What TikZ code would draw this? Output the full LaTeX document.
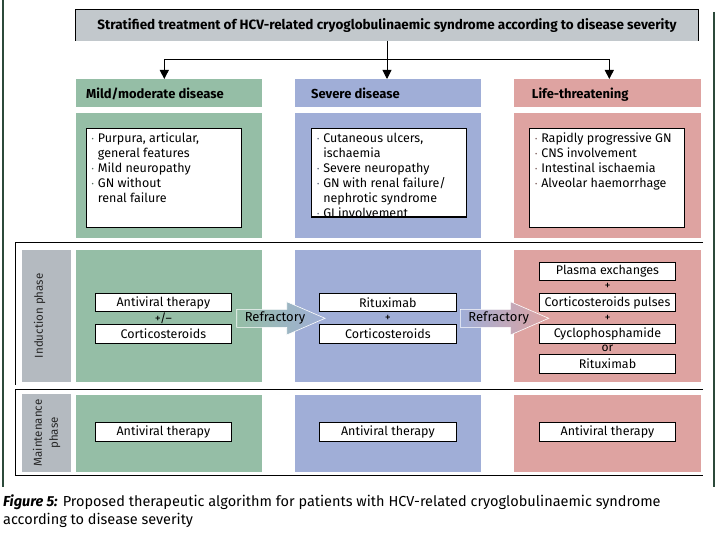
\documentclass[tikz,border=0pt]{standalone}
\usepackage{fontspec}
\setmainfont{Fira Sans}
\usetikzlibrary{positioning, calc, arrows.meta}

\definecolor{cgreen}{HTML}{95BEA6}
\definecolor{cblue}{HTML}{A0AED7}
\definecolor{cred}{HTML}{DEA3A1}
\definecolor{cgrey}{HTML}{C2C8CC}
\definecolor{cphase}{HTML}{B4BAC0}
\definecolor{cside}{HTML}{2C4A3A}

\newcommand{\listdot}[1]{{\color{#1}\fontsize{7}{7}\selectfont\raisebox{1.2pt}{\textbullet}}}

\tikzset{
  panel/.style={inner sep=0pt, minimum width=186.5pt, anchor=north west},
  headtxt/.style={inner sep=0pt, anchor=base west, font=\bfseries\fontsize{13}{15}\selectfont},
  symbox/.style={draw=black, line width=0.8pt, fill=white, minimum width=155pt, inner sep=0pt, anchor=north west},
  listtxt/.style={inner sep=0pt, anchor=base west, font=\fontsize{12.5}{15}\selectfont},
  drugbox/.style={draw=black, line width=0.8pt, fill=white, minimum width=136.7pt, minimum height=18.5pt, inner sep=0pt, font=\fontsize{12.5}{14}\selectfont},
  optxt/.style={inner sep=0pt, font=\fontsize{12}{14}\selectfont},
  phasebox/.style={fill=cphase, inner sep=0pt, minimum width=48.7pt},
  phasetxt/.style={inner sep=0pt, rotate=90, font=\fontsize{11.5}{16}\selectfont, text=black!85},
  refr/.style={inner sep=0pt, font=\fontsize{13}{15}\selectfont},
  link/.style={line width=0.9pt, -{Triangle[width=9pt,length=9pt]}},
  frame/.style={line width=0.8pt},
}

\begin{document}
\begin{tikzpicture}[x=1pt, y=-1pt]
\useasboundingbox (0,0) rectangle (720,540);

% page rules
\draw[cside, line width=1.4pt] (3,0) -- (3,487);
\draw[cside, line width=1.4pt] (714,12) -- (714,487);

% title
\node[fill=cgrey, minimum width=622pt, minimum height=30.7pt, inner sep=0pt,
      font=\bfseries\fontsize{13.5}{15}\selectfont] (title) at (387,25.35)
  {Stratified treatment of HCV-related cryoglobulinaemic syndrome according to disease severity};
\draw[frame] (title.south west) |- (title.north east) -- (title.south east);

% coloured columns
\foreach \c/\x/\col in {mild/75.3/cgreen, sev/294.3/cblue, life/514/cred} {
  \node[panel, fill=\col, minimum height=27.7pt] (\c-head) at (\x,79) {};
  \node[panel, fill=\col, minimum height=124.4pt] (\c-sym) at (\x,113.3) {};
  \node[panel, fill=\col, minimum height=131.7pt] (\c-ind) at (\x,250) {};
  \node[panel, fill=\col, minimum height=77.4pt] (\c-mnt) at (\x,394.3) {};
}

\node[headtxt] (mild-ht) at (86,98.3) {Mild/moderate disease};
\node[headtxt] (sev-ht) at (311,98.3) {Severe disease};
\node[headtxt] (life-ht) at (531.7,98.3) {Life-threatening};

% arrows from the title
\coordinate (fork-l) at (164.3,59.3);
\coordinate (fork-r) at (609.3,59.3);
\draw[link] (title.south) -- (title.south |- sev-head.north);
\draw[link] (fork-r) -- (fork-l) -- (fork-l |- mild-head.north);
\draw[link] (fork-r) -- (fork-r |- life-head.north);

% symptoms
\node[symbox, minimum height=99pt] (mild-box) at (85.7,127.7) {};
\node[listtxt] (mild-list) at (91.5,142.7) {\begin{tabular}[t]{@{}l@{\hspace{4pt}}l@{}}
  \listdot{cgreen!55!black} & Purpura, articular,\\
   & general features\\
  \listdot{cgreen!55!black} & Mild neuropathy\\
  \listdot{cgreen!55!black} & GN without\\
   & renal failure
\end{tabular}};

\node[symbox, minimum height=88.5pt] (sev-box) at (311,128) {};
\begin{scope}
  \clip (sev-box.south west) rectangle (sev-box.north east);
  \node[listtxt] (sev-list) at (316.8,142.7) {\begin{tabular}[t]{@{}l@{\hspace{4pt}}l@{}}
    \listdot{cblue!55!black} & Cutaneous ulcers,\\
     & ischaemia\\
    \listdot{cblue!55!black} & Severe neuropathy\\
    \listdot{cblue!55!black} & GN with renal failure/\\
     & nephrotic syndrome\\
    \listdot{cblue!55!black} & GI involvement
  \end{tabular}};
\end{scope}
\draw[frame] (sev-box.south west) rectangle (sev-box.north east);

\node[symbox, minimum height=99pt] (life-box) at (529,127.7) {};
\node[listtxt] (life-list) at (534.8,142.7) {\begin{tabular}[t]{@{}l@{\hspace{4pt}}l@{}}
  \listdot{cred!55!black} & Rapidly progressive GN\\
  \listdot{cred!55!black} & CNS involvement\\
  \listdot{cred!55!black} & Intestinal ischaemia\\
  \listdot{cred!55!black} & Alveolar haemorrhage
\end{tabular}};

% phase frames
\draw[frame] (703,242.7) -- (15,242.7) -- (15,385);
\draw[frame] (703,389.3) -| (15,475.7) -- (703,475.7);

\node[phasebox, minimum height=131.7pt] (ind-lab) at (46.65,315.85) {};
\node[phasetxt] (ind-txt) at ([xshift=-7pt]ind-lab.center) {Induction phase};
\node[phasebox, minimum height=77.4pt] (mnt-lab) at (46.65,433) {};
\node[phasetxt, align=center] (mnt-txt) at (mnt-lab.center) {Maintenance\\phase};

% refractory arrows
\foreach \dx/\ca/\cb/\n in {0/cgreen/cblue/1, 223.7/cblue/cred/2} {
  \begin{scope}[shift={(\dx,0)}]
    \shadedraw[left color=\ca, right color=\cb, draw=white, line width=0.6pt]
      (236.7,309.3) -- (286.7,309.3) -- (286.7,301.7) -- (325,318.3)
      -- (286.7,335) -- (286.7,327.3) -- (236.7,327.3) -- cycle;
    \node[refr] (refr-\n) at (275,318.3) {Refractory};
  \end{scope}
}

% induction
\node[drugbox] (mild-av) at (163.35,302.5) {Antiviral therapy};
\node[drugbox] (mild-cs) at (163.35,333.75) {Corticosteroids};
\node[optxt] at ($(mild-av.south)!0.5!(mild-cs.north)$) {+/–};

\node[drugbox] (sev-rtx) at (387.85,302.5) {Rituximab};
\node[drugbox] (sev-cs) at (387.85,333.75) {Corticosteroids};
\node[optxt] at ($(sev-rtx.south)!0.5!(sev-cs.north)$) {+};

\node[drugbox] (life-pe) at (607.5,271.25) {Plasma exchanges};
\node[drugbox] (life-csp) at (607.5,302.5) {Corticosteroids pulses};
\node[drugbox] (life-cyc) at (607.5,333.75) {Cyclophosphamide};
\node[drugbox] (life-rtx) at (607.5,363.75) {Rituximab};
\node[optxt] at ($(life-pe.south)!0.5!(life-csp.north)$) {+};
\node[optxt] at ($(life-csp.south)!0.5!(life-cyc.north)$) {+};
\node[optxt] at ($(life-cyc.south)!0.5!(life-rtx.north)$) {or};

% maintenance
\node[drugbox] (mild-mav) at (163.35,431.85) {Antiviral therapy};
\node[drugbox] (sev-mav) at (387.85,431.85) {Antiviral therapy};
\node[drugbox] (life-mav) at (607.5,431.85) {Antiviral therapy};

% caption
\node[inner sep=0pt, anchor=base west, font=\fontsize{14.5}{17.3}\selectfont] (caption) at (3,506.7)
  {\begin{tabular}[t]{@{}l@{}}
   \textbf{\textit{Figure 5:}} Proposed therapeutic algorithm for patients with HCV-related cryoglobulinaemic syndrome\\
   according to disease severity
  \end{tabular}};

\end{tikzpicture}
\end{document}
